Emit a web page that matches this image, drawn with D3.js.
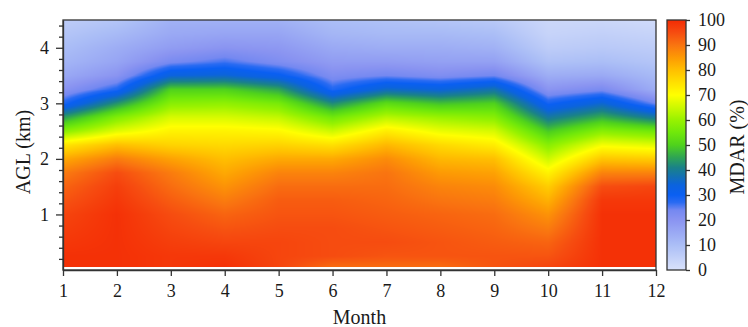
<!DOCTYPE html>
<html>
<head>
<meta charset="utf-8">
<script src="https://cdn.jsdelivr.net/npm/d3@7/dist/d3.min.js"></script>
<style>
  body { margin: 0; background: #fff; }
  svg text { font-family: "Liberation Serif", "Times New Roman", serif; fill: #1a1a1a; }
  .axis path, .axis line { stroke: #333; stroke-width: 1.3; }
</style>
</head>
<body>
<div id="chart"></div>
<script>
// months along x, heights (km AGL) along y
const months = [1, 2, 3, 4, 5, 6, 7, 8, 9, 10, 11, 12];
const heights = [0.05, 0.25, 0.5, 0.75, 1.0, 1.25, 1.5, 1.75, 2.0, 2.25, 2.5,
                 2.75, 3.0, 3.25, 3.5, 3.75, 4.0, 4.25, 4.5];

// MDAR (%) per month, bottom -> top, one value per height above
const mdarM1  = [99, 99, 98, 97, 96, 94, 92, 89, 83, 74, 58, 44, 28, 20, 15, 12, 10, 8, 6];
const mdarM2  = [99, 99, 99, 99, 99, 98, 97, 95, 89, 80, 67, 57, 43, 28, 20, 16, 14, 11, 8];
const mdarM3  = [98, 98, 97, 96, 95, 93, 91, 89, 84, 77, 72, 66, 58, 50, 34, 23, 18, 15, 13];
const mdarM4  = [99, 98, 96, 94, 92, 89, 86, 83, 80, 76, 72, 66, 59, 50, 35, 26, 20, 16, 13];
const mdarM5  = [96, 96, 96, 95, 94, 93, 91, 88, 83, 77, 71, 64, 56, 45, 31, 22, 19, 16, 13];
const mdarM6  = [91, 95, 95, 95, 94, 93, 91, 88, 83, 75, 65, 55, 42, 28, 22, 18, 15, 12, 10];
const mdarM7  = [91, 94, 95, 94, 93, 92, 91, 90, 87, 81, 73, 63, 52, 36, 24, 18, 14, 11, 9];
const mdarM8  = [91, 94, 94, 93, 92, 90, 88, 85, 81, 76, 68, 60, 48, 34, 22, 17, 14, 11, 8];
const mdarM9  = [94, 94, 93, 92, 91, 89, 87, 84, 80, 73, 66, 58, 50, 38, 24, 17, 13, 10, 7];
const mdarM10 = [96, 94, 92, 89, 86, 82, 78, 72, 65, 58, 49, 39, 29, 20, 14, 9, 6, 4, 3];
const mdarM11 = [99, 99, 99, 99, 99, 98, 95, 88, 79, 69, 58, 46, 35, 23, 15, 10, 7, 5, 3];
const mdarM12 = [99, 99, 99, 99, 99, 98, 96, 88, 78, 67, 55, 39, 24, 14, 11, 8, 6, 4, 2];
const mdar = [mdarM1, mdarM2, mdarM3, mdarM4, mdarM5, mdarM6,
              mdarM7, mdarM8, mdarM9, mdarM10, mdarM11, mdarM12];

const yMajorTicks = [1, 2, 3, 4];
const colorTicks = [0, 10, 20, 30, 40, 50, 60, 70, 80, 90, 100];

// colour map (value -> colour)
const cmapValues = [0, 10, 15, 20, 24, 27, 30, 34, 37, 41, 45, 50, 55, 60, 65, 70, 75, 80, 85, 90, 95, 100];
const cmapColors = ['#d9e2fb', '#abbef6', '#9aa9f4', '#8a94f1', '#7488f1', '#2a6bf2', '#0a5ff2',
                    '#0b63de', '#126fb8', '#1a8288', '#2ea454', '#4fd21c', '#70e80a', '#98f200',
                    '#ccf900', '#ffff00', '#ffe000', '#ffbf00', '#fd9a04', '#f97410', '#f64c10', '#f42a04'];

const dims = {
  width: 748, height: 327,
  margin: { top: 20, left: 63, right: 92, bottom: 57 }
};
dims.ctrWidth = dims.width - dims.margin.left - dims.margin.right;
dims.ctrHeight = dims.height - dims.margin.top - dims.margin.bottom;

const svg = d3.select('#chart').append('svg')
  .attr('width', dims.width)
  .attr('height', dims.height);

const ctr = svg.append('g')
  .attr('transform', `translate(${dims.margin.left},${dims.margin.top})`);

const x = d3.scaleLinear().domain([1, 12]).range([0, dims.ctrWidth]);
const y = d3.scaleLinear().domain([0, 4.5]).range([dims.ctrHeight, 0]);
const color = d3.scaleLinear().domain(cmapValues).range(cmapColors)
  .interpolate(d3.interpolateRgb).clamp(true);

// value at (month, height): linear between months and between heights
function valueAt(m, h) {
  let i = Math.floor(m - 1);
  i = Math.max(0, Math.min(months.length - 2, i));
  const tm = (m - months[i]) / (months[i + 1] - months[i]);
  let j = d3.bisectRight(heights, h) - 1;
  j = Math.max(0, Math.min(heights.length - 2, j));
  const th = (h - heights[j]) / (heights[j + 1] - heights[j]);
  const a = mdar[i][j] + (mdar[i][j + 1] - mdar[i][j]) * th;
  const b = mdar[i + 1][j] + (mdar[i + 1][j + 1] - mdar[i + 1][j]) * th;
  return a + (b - a) * tm;
}

// heatmap drawn into a canvas, then placed as an image
const cw = Math.round(dims.ctrWidth), ch = Math.round(dims.ctrHeight);
const canvas = document.createElement('canvas');
canvas.width = cw; canvas.height = ch;
const cctx = canvas.getContext('2d');
const img = cctx.createImageData(cw, ch);
for (let py = 0; py < ch; py++) {
  const h = y.invert(py + 0.5);
  if (h < heights[0] || h > heights[heights.length - 1]) continue;
  for (let px = 0; px < cw; px++) {
    const m = x.invert(px + 0.5);
    const c = d3.rgb(color(valueAt(m, h)));
    const k = (py * cw + px) * 4;
    img.data[k] = c.r; img.data[k + 1] = c.g; img.data[k + 2] = c.b; img.data[k + 3] = 255;
  }
}
cctx.putImageData(img, 0, 0);

ctr.append('image')
  .attr('x', 0).attr('y', 0)
  .attr('width', cw).attr('height', ch)
  .attr('preserveAspectRatio', 'none')
  .attr('href', canvas.toDataURL());

// frame
ctr.append('rect')
  .attr('width', dims.ctrWidth).attr('height', dims.ctrHeight)
  .attr('fill', 'none').attr('stroke', '#333').attr('stroke-width', 1.3);

// x axis
const xAxisGroup = ctr.append('g')
  .attr('class', 'axis')
  .attr('transform', `translate(0,${dims.ctrHeight})`)
  .call(d3.axisBottom(x).tickValues(months).tickSize(6).tickPadding(8).tickSizeOuter(0));
xAxisGroup.selectAll('text').style('font-size', '18px');

ctr.append('text')
  .attr('x', dims.ctrWidth / 2)
  .attr('y', dims.ctrHeight + 54)
  .attr('text-anchor', 'middle')
  .style('font-size', '20px')
  .text('Month');

// y axis, minor ticks first
ctr.append('g')
  .attr('class', 'axis')
  .call(d3.axisLeft(y)
    .tickValues(d3.range(1, 23).map(d => d * 0.2).filter(d => Math.abs(d - Math.round(d)) > 0.01))
    .tickSize(4).tickFormat('').tickSizeOuter(0))
  .select('.domain').remove();

const yAxisGroup = ctr.append('g')
  .attr('class', 'axis')
  .call(d3.axisLeft(y).tickValues(yMajorTicks).tickFormat(d3.format('d'))
    .tickSize(7).tickPadding(7).tickSizeOuter(0));
yAxisGroup.selectAll('text').style('font-size', '18px');

svg.append('text')
  .attr('transform', `translate(30,${dims.margin.top + 132}) rotate(-90)`)
  .attr('text-anchor', 'middle')
  .style('font-size', '20px')
  .text('AGL (km)');

// colour bar
const cb = { x: 667, w: 19 };
const cbY = d3.scaleLinear().domain([0, 100]).range([dims.ctrHeight, 0]);
const grad = svg.append('defs').append('linearGradient')
  .attr('id', 'cbar').attr('x1', 0).attr('y1', 1).attr('x2', 0).attr('y2', 0);
grad.selectAll('stop')
  .data(d3.range(0, 101, 1))
  .join('stop')
  .attr('offset', d => d / 100)
  .attr('stop-color', d => color(d));

const cbG = svg.append('g')
  .attr('transform', `translate(${cb.x},${dims.margin.top})`);
cbG.append('rect')
  .attr('width', cb.w).attr('height', dims.ctrHeight)
  .attr('fill', 'url(#cbar)')
  .attr('stroke', '#333').attr('stroke-width', 1.3);

const cbAxis = cbG.append('g')
  .attr('class', 'axis')
  .attr('transform', `translate(${cb.w},0)`)
  .call(d3.axisRight(cbY).tickValues(colorTicks).tickSize(4).tickPadding(8).tickSizeOuter(0));
cbAxis.select('.domain').remove();
cbAxis.selectAll('text').style('font-size', '18px');

svg.append('text')
  .attr('transform', `translate(744,${dims.margin.top + 127}) rotate(-90)`)
  .attr('text-anchor', 'middle')
  .style('font-size', '20px')
  .text('MDAR (%)');
</script>
</body>
</html>
